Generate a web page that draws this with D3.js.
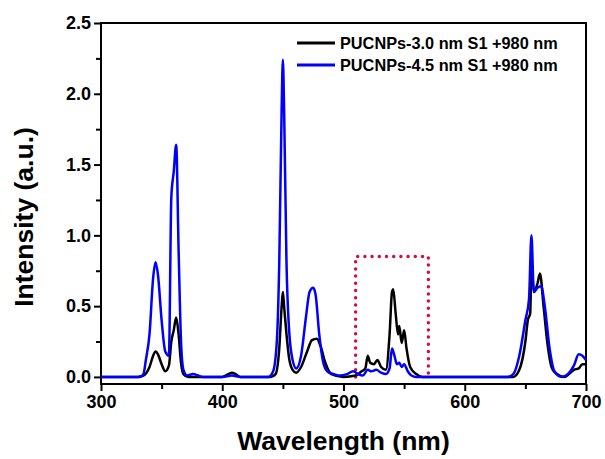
<!DOCTYPE html>
<html>
<head>
<meta charset="utf-8">
<script src="https://cdn.jsdelivr.net/npm/d3@7"></script>
<style>
  body { margin: 0; background: #fff; }
  svg { font-family: Arial, "Liberation Sans", sans-serif; font-weight: bold; }
</style>
</head>
<body>
<div id="chart"></div>
<script>
// series
const blackNm = [300, 330, 335, 340, 343, 345, 347, 350, 353, 356, 358, 360, 362, 364, 366, 368, 372, 380, 400, 405, 408, 411, 415, 440, 444, 447, 449, 450, 451, 453, 455, 458, 461, 465, 470, 474, 478, 481, 485, 490, 500, 510, 515, 518, 520, 522, 525, 528, 531, 535, 538, 540, 541, 543, 545, 546, 548, 550, 552, 555, 560, 565, 640, 645, 650, 652, 654, 655, 657, 660, 662, 665, 668, 672, 676, 682, 686, 690, 694, 697, 700];
const blackVal = [0, 0, 0.01, 0.07, 0.15, 0.18, 0.16, 0.09, 0.04, 0.08, 0.25, 0.33, 0.42, 0.3, 0.1, 0.02, 0, 0, 0, 0.02, 0.03, 0.02, 0, 0, 0.02, 0.2, 0.5, 0.6, 0.5, 0.3, 0.14, 0.05, 0.03, 0.07, 0.18, 0.26, 0.27, 0.22, 0.1, 0.02, 0, 0.01, 0.04, 0.06, 0.15, 0.1, 0.09, 0.12, 0.07, 0.05, 0.3, 0.6, 0.62, 0.45, 0.3, 0.36, 0.24, 0.33, 0.2, 0.07, 0.02, 0, 0, 0.05, 0.25, 0.4, 0.45, 0.8, 0.6, 0.66, 0.73, 0.5, 0.25, 0.06, 0.02, 0, 0.02, 0.05, 0.06, 0.09, 0.09];
const blueNm = [300, 332, 335, 337, 340, 343, 345, 347, 350, 353, 356, 358, 360, 362, 364, 366, 368, 371, 376, 380, 384, 400, 408, 415, 438, 442, 445, 447, 449, 450, 451, 453, 455, 458, 461, 465, 469, 472, 475, 477, 480, 484, 488, 492, 497, 503, 508, 512, 516, 520, 523, 527, 531, 535, 538, 540, 542, 544, 546, 548, 550, 553, 556, 560, 565, 635, 640, 645, 650, 653, 655, 657, 660, 663, 666, 670, 674, 680, 685, 690, 694, 697, 700];
const blueVal = [0, 0, 0.02, 0.12, 0.3, 0.7, 0.81, 0.72, 0.4, 0.18, 0.15, 1.27, 1.45, 1.64, 0.9, 0.25, 0.05, 0.01, 0.02, 0.01, 0, 0, 0.01, 0, 0, 0.04, 0.25, 0.8, 1.9, 2.24, 1.9, 0.8, 0.35, 0.12, 0.06, 0.15, 0.42, 0.6, 0.63, 0.58, 0.3, 0.08, 0.03, 0.02, 0.01, 0.02, 0.04, 0.02, 0.01, 0.05, 0.04, 0.05, 0.03, 0.02, 0.06, 0.2, 0.15, 0.09, 0.1, 0.07, 0.09, 0.04, 0.01, 0, 0, 0, 0.02, 0.15, 0.4, 0.55, 1.0, 0.6, 0.63, 0.64, 0.5, 0.2, 0.04, 0, 0.02, 0.08, 0.16, 0.15, 0.12];
const legendLabels = ["PUCNPs-3.0 nm S1 +980 nm", "PUCNPs-4.5 nm S1 +980 nm"];
const xTicks = [300, 400, 500, 600, 700];
const yTicks = [0.0, 0.5, 1.0, 1.5, 2.0, 2.5];
const boxNm = [510, 570];
const boxTop = 0.85;

const width = 605, height = 459;
const margin = { top: 23, right: 19, bottom: 75, left: 101 };
const colors = ["#000000", "#0000ff"];

const svg = d3.select("#chart").append("svg")
  .attr("width", width)
  .attr("height", height);

const x = d3.scaleLinear().domain([300, 700]).range([margin.left, width - margin.right]);
const y = d3.scaleLinear().domain([-0.05, 2.5]).range([height - margin.bottom, margin.top]);

// frame
svg.append("rect")
  .attr("x", x(300)).attr("y", y(2.5))
  .attr("width", x(700) - x(300)).attr("height", y(-0.05) - y(2.5))
  .attr("fill", "none").attr("stroke", "#000").attr("stroke-width", 2);

// x axis, majors + minors
const xAxis = svg.append("g").attr("transform", `translate(0,${y(-0.05)})`);
xAxis.call(d3.axisBottom(x).tickValues(d3.range(350, 700, 100)).tickSize(5).tickFormat(""));
xAxis.call(g => g.append("g").call(d3.axisBottom(x).tickValues(xTicks).tickSize(7).tickPadding(4).tickFormat(d3.format("d"))));
xAxis.selectAll("path.domain").remove();
xAxis.selectAll("line").attr("stroke", "#000").attr("stroke-width", 2);
xAxis.selectAll("text").attr("fill", "#000").style("font-size", "18px").style("font-weight", "bold");

// y axis
const yAxis = svg.append("g").attr("transform", `translate(${x(300)},0)`);
yAxis.call(d3.axisLeft(y).tickValues(d3.range(0.25, 2.5, 0.5)).tickSize(5).tickFormat(""));
yAxis.call(g => g.append("g").call(d3.axisLeft(y).tickValues(yTicks).tickSize(7).tickPadding(3).tickFormat(d3.format(".1f"))));
yAxis.selectAll("path.domain").remove();
yAxis.selectAll("line").attr("stroke", "#000").attr("stroke-width", 2);
yAxis.selectAll("text").attr("fill", "#000").style("font-size", "18px").style("font-weight", "bold");

// axis titles
svg.append("text")
  .attr("x", (x(300) + x(700)) / 2).attr("y", 450)
  .attr("text-anchor", "middle")
  .style("font-size", "26.5px")
  .text("Wavelength (nm)");

svg.append("text")
  .attr("transform", "translate(33,217) rotate(-90)")
  .attr("text-anchor", "middle")
  .style("font-size", "26.5px")
  .text("Intensity (a.u.)");

// red dotted box (open at the bottom)
svg.append("path")
  .attr("d", d3.line()([[x(boxNm[0]), y(0)], [x(boxNm[0]), y(boxTop)], [x(boxNm[1]), y(boxTop)], [x(boxNm[1]), y(0)]]))
  .attr("fill", "none")
  .attr("stroke", "#d01040")
  .attr("stroke-width", 3.5)
  .attr("stroke-linecap", "round")
  .attr("stroke-dasharray", "0 7.2");

// spectra
const line = d3.line()
  .x(d => x(d[0]))
  .y(d => y(d[1]))
  .curve(d3.curveMonotoneX);

const series = [
  d3.zip(blackNm, blackVal),
  d3.zip(blueNm, blueVal)
];

series.forEach((pts, i) => {
  svg.append("path")
    .datum(pts)
    .attr("d", line)
    .attr("fill", "none")
    .attr("stroke", colors[i])
    .attr("stroke-width", 2.5)
    .attr("stroke-linejoin", "round");
});

// legend
const legend = svg.append("g");
legendLabels.forEach((label, i) => {
  const ly = 43 + i * 22;
  legend.append("line")
    .attr("x1", 297).attr("x2", 335)
    .attr("y1", ly).attr("y2", ly)
    .attr("stroke", colors[i]).attr("stroke-width", 3);
  legend.append("text")
    .attr("x", 340).attr("y", ly + 6)
    .style("font-size", "16.3px")
    .text(label);
});
</script>
</body>
</html>
